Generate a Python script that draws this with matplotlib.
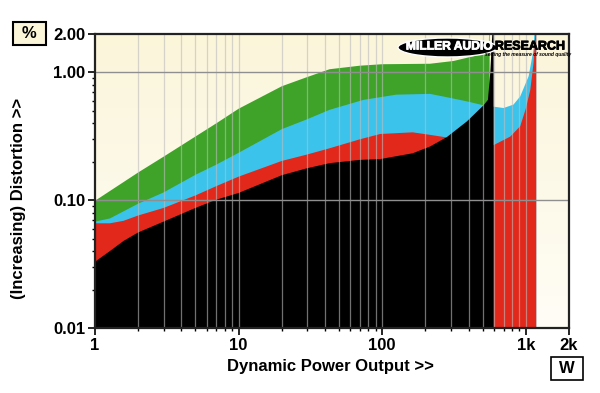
import numpy as np
import matplotlib
matplotlib.use("Agg")
import matplotlib.pyplot as plt
from matplotlib.patches import Ellipse, Rectangle
import matplotlib.patheffects as pe

plt.rcParams["font.family"] = ["Liberation Sans", "DejaVu Sans"]
plt.rcParams["font.weight"] = "bold"

# Distortion (%) vs dynamic power output (W)
GREEN_W   = [1, 2, 3, 5, 7, 10, 20, 30, 43, 70, 100, 215, 314, 433, 536, 552, 560]
GREEN_PCT = [0.099, 0.165, 0.219, 0.315, 0.40, 0.52, 0.78, 0.92, 1.06, 1.13, 1.16,
             1.17, 1.23, 1.34, 1.43, 1.55, 3.0]

CYAN_W   = [1, 1.27, 2, 3, 5, 7, 10, 20, 30, 43, 74, 125, 215, 282, 389, 508, 597,
            700, 820, 915, 1047, 1133, 1165, 1183]
CYAN_PCT = [0.068, 0.072, 0.094, 0.115, 0.158, 0.190, 0.235, 0.36, 0.43, 0.51, 0.61,
            0.67, 0.68, 0.64, 0.594, 0.553, 0.54, 0.527, 0.56, 0.65, 0.935, 1.52, 3.0, 3.0]

RED_W   = [1, 1.27, 1.58, 2, 3, 5, 7, 10, 20, 30, 43, 70, 97, 163, 215, 282, 400,
           597, 780, 915, 1000, 1075, 1133, 1165, 1183]
RED_PCT = [0.066, 0.066, 0.069, 0.076, 0.087, 0.109, 0.129, 0.153, 0.203, 0.228, 0.255,
           0.30, 0.33, 0.34, 0.325, 0.31, 0.28, 0.27, 0.315, 0.38, 0.52, 0.73, 1.19, 2.0, 3.0]

BLACK_W   = [1, 1.27, 1.58, 2, 3, 5, 7, 10, 20, 30, 43, 70, 97, 163, 215, 282, 389,
             508, 545, 566, 580, 597]
BLACK_PCT = [0.033, 0.040, 0.048, 0.056, 0.068, 0.087, 0.101, 0.114, 0.157, 0.178, 0.195,
             0.207, 0.21, 0.233, 0.263, 0.312, 0.414, 0.553, 0.61, 1.0, 1.7, 3.0]

X_TICKS  = [1, 10, 100, 1000, 2000]
X_LABELS = ["1", "10", "100", "1k", "2k"]
Y_TICKS  = [0.01, 0.1, 1.0, 2.0]
Y_LABELS = ["0.01", "0.10", "1.00", "2.00"]

SERIES = [
    (GREEN_W, GREEN_PCT, "#3fa32a"),
    (CYAN_W, CYAN_PCT, "#3cc3ec"),
    (RED_W, RED_PCT, "#e2271b"),
    (BLACK_W, BLACK_PCT, "#000000"),
]

W, H = 600, 393
fig = plt.figure(figsize=(W / 100, H / 100), dpi=100)
fig.patch.set_facecolor("white")

def fx(px):
    return px / W

def fy(py):
    return 1 - py / H

ax = fig.add_axes([fx(95), fy(328), fx(569) - fx(95), fy(34) - fy(328)])
ax.set_xscale("log")
ax.set_yscale("log")
ax.set_xlim(1, 2000)
ax.set_ylim(0.01, 2.0)

# cream background fading towards the bottom
grad = np.linspace(0, 1, 256).reshape(-1, 1)
top = np.array(matplotlib.colors.to_rgb("#fbf5da"))
bot = np.array(matplotlib.colors.to_rgb("#fffdf6"))
img = top[None, None, :] * (1 - grad[..., None]) + bot[None, None, :] * grad[..., None]
ax.imshow(img, extent=[0, 1, 0, 1], transform=ax.transAxes, aspect="auto", zorder=0)

for xs, ys, col in SERIES:
    ax.fill_between(xs, 0.001, ys, color=col, linewidth=0, zorder=2)

# grid drawn over the fills
minor_x = [m * d for d in (1, 10, 100) for m in range(2, 10)]
for x in minor_x + [10, 100, 1000]:
    ax.axvline(x, color="#bdbdbd", lw=0.9, alpha=0.6, zorder=3)
for y in (0.1, 1.0):
    ax.axhline(y, color="#8f8f8f", lw=1.0, zorder=3)

ax.set_xticks(X_TICKS)
ax.set_xticklabels(X_LABELS)
ax.set_xticks(minor_x, minor=True)
ax.set_xticklabels([], minor=True)
ax.set_yticks(Y_TICKS)
ax.set_yticklabels(Y_LABELS)
minor_y = [m * d for d in (0.01, 0.1) for m in range(2, 10)]
ax.set_yticks(minor_y, minor=True)
ax.set_yticklabels([], minor=True)
ax.tick_params(which="major", direction="out", length=5, width=1.2, labelsize=12, pad=2)
ax.tick_params(which="minor", direction="out", length=2.5, width=1.0)
for lab in ax.get_xticklabels() + ax.get_yticklabels():
    lab.set_fontweight("bold")
for sp in ax.spines.values():
    sp.set_linewidth(1.6)
    sp.set_color("#222222")
    sp.set_zorder(5)

# axis titles
fig.text(fx(330), fy(367), "Dynamic Power Output >>", ha="center", va="center",
         fontsize=12, fontweight="bold")
fig.text(fx(19), fy(198), "(Increasing) Distortion >>", ha="center", va="center",
         rotation=90, fontsize=12, fontweight="bold")

# unit boxes
fig.add_artist(Rectangle((fx(13), fy(45)), fx(46) - fx(13), fy(22) - fy(45),
                         transform=fig.transFigure, facecolor="#fbf5da",
                         edgecolor="black", lw=1.5))
fig.text(fx(29.5), fy(33.5), "%", ha="center", va="center", fontsize=12, fontweight="bold")
fig.add_artist(Rectangle((fx(551), fy(380)), fx(583) - fx(551), fy(357) - fy(380),
                         transform=fig.transFigure, facecolor="white",
                         edgecolor="black", lw=1.2))
fig.text(fx(567), fy(368.5), "W", ha="center", va="center", fontsize=12, fontweight="bold")

# logo
fig.add_artist(Ellipse((fx(447.5), fy(47.5)), fx(99), 19 / H, transform=fig.transFigure,
                       facecolor="black", edgecolor="white", lw=1.0, zorder=6))
fig.text(fx(449), fy(46.5), "MILLER AUDIO", ha="center", va="center", color="white",
         fontsize=8.7, fontweight="bold", zorder=7,
         path_effects=[pe.withStroke(linewidth=0.6, foreground="white")])
fig.text(fx(530), fy(46.5), "RESEARCH", ha="center", va="center", color="black",
         fontsize=9, fontweight="bold", zorder=7,
         path_effects=[pe.withStroke(linewidth=0.6, foreground="black")])
fig.text(fx(528), fy(54.5), "setting the measure of sound quality", ha="center",
         va="center", color="black", fontsize=3.6, fontweight="bold", style="italic", zorder=7)

fig.savefig("out.png", dpi=100)
